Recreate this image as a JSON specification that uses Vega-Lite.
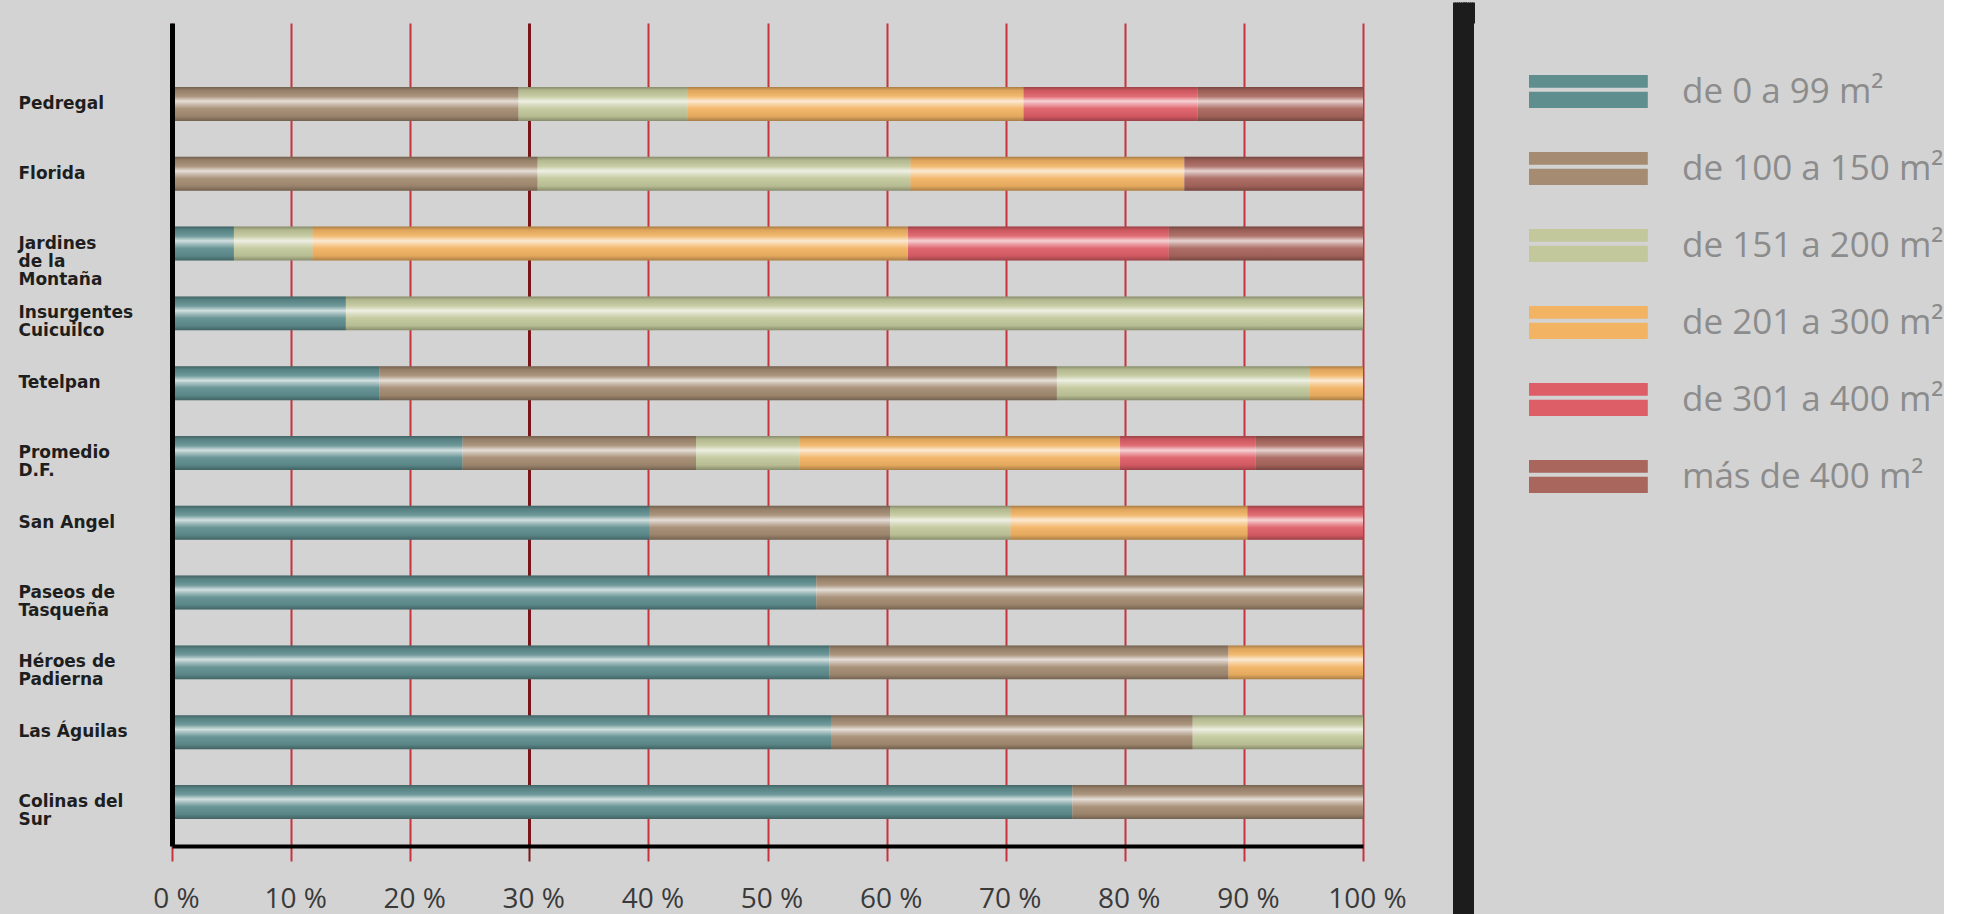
{
  "$schema": "https://vega.github.io/schema/vega-lite/v6.json",
  "background": "#d3d3d3",
  "padding": {"left": 18, "right": 0, "top": 0, "bottom": 0},
  "config": {"view": {"stroke": null}},
  "columns": 2,
  "align": "none",
  "spacing": 45,
  "concat": [
    {
      "width": 1191,
      "height": 823,
      "data": {
        "values": [
          {"barrio": "Pedregal", "rango": "de 100 a 150 m²", "orden": 1, "pct": 29.1},
          {"barrio": "Pedregal", "rango": "de 151 a 200 m²", "orden": 2, "pct": 14.2},
          {"barrio": "Pedregal", "rango": "de 201 a 300 m²", "orden": 3, "pct": 28.2},
          {"barrio": "Pedregal", "rango": "de 301 a 400 m²", "orden": 4, "pct": 14.6},
          {"barrio": "Pedregal", "rango": "más de 400 m²", "orden": 5, "pct": 13.9},
          {"barrio": "Florida", "rango": "de 100 a 150 m²", "orden": 1, "pct": 30.7},
          {"barrio": "Florida", "rango": "de 151 a 200 m²", "orden": 2, "pct": 31.3},
          {"barrio": "Florida", "rango": "de 201 a 300 m²", "orden": 3, "pct": 23.0},
          {"barrio": "Florida", "rango": "más de 400 m²", "orden": 5, "pct": 15.0},
          {"barrio": "Jardines de la Montaña", "rango": "de 0 a 99 m²", "orden": 0, "pct": 5.2},
          {"barrio": "Jardines de la Montaña", "rango": "de 151 a 200 m²", "orden": 2, "pct": 6.6},
          {"barrio": "Jardines de la Montaña", "rango": "de 201 a 300 m²", "orden": 3, "pct": 50.0},
          {"barrio": "Jardines de la Montaña", "rango": "de 301 a 400 m²", "orden": 4, "pct": 21.9},
          {"barrio": "Jardines de la Montaña", "rango": "más de 400 m²", "orden": 5, "pct": 16.3},
          {"barrio": "Insurgentes Cuicuilco", "rango": "de 0 a 99 m²", "orden": 0, "pct": 14.6},
          {"barrio": "Insurgentes Cuicuilco", "rango": "de 151 a 200 m²", "orden": 2, "pct": 85.4},
          {"barrio": "Tetelpan", "rango": "de 0 a 99 m²", "orden": 0, "pct": 17.4},
          {"barrio": "Tetelpan", "rango": "de 100 a 150 m²", "orden": 1, "pct": 56.9},
          {"barrio": "Tetelpan", "rango": "de 151 a 200 m²", "orden": 2, "pct": 21.2},
          {"barrio": "Tetelpan", "rango": "de 201 a 300 m²", "orden": 3, "pct": 4.5},
          {"barrio": "Promedio D.F.", "rango": "de 0 a 99 m²", "orden": 0, "pct": 24.4},
          {"barrio": "Promedio D.F.", "rango": "de 100 a 150 m²", "orden": 1, "pct": 19.6},
          {"barrio": "Promedio D.F.", "rango": "de 151 a 200 m²", "orden": 2, "pct": 8.7},
          {"barrio": "Promedio D.F.", "rango": "de 201 a 300 m²", "orden": 3, "pct": 26.9},
          {"barrio": "Promedio D.F.", "rango": "de 301 a 400 m²", "orden": 4, "pct": 11.4},
          {"barrio": "Promedio D.F.", "rango": "más de 400 m²", "orden": 5, "pct": 9.0},
          {"barrio": "San Angel", "rango": "de 0 a 99 m²", "orden": 0, "pct": 40.1},
          {"barrio": "San Angel", "rango": "de 100 a 150 m²", "orden": 1, "pct": 20.2},
          {"barrio": "San Angel", "rango": "de 151 a 200 m²", "orden": 2, "pct": 10.1},
          {"barrio": "San Angel", "rango": "de 201 a 300 m²", "orden": 3, "pct": 19.9},
          {"barrio": "San Angel", "rango": "de 301 a 400 m²", "orden": 4, "pct": 9.7},
          {"barrio": "Paseos de Tasqueña", "rango": "de 0 a 99 m²", "orden": 0, "pct": 54.1},
          {"barrio": "Paseos de Tasqueña", "rango": "de 100 a 150 m²", "orden": 1, "pct": 45.9},
          {"barrio": "Héroes de Padierna", "rango": "de 0 a 99 m²", "orden": 0, "pct": 55.2},
          {"barrio": "Héroes de Padierna", "rango": "de 100 a 150 m²", "orden": 1, "pct": 33.5},
          {"barrio": "Héroes de Padierna", "rango": "de 201 a 300 m²", "orden": 3, "pct": 11.3},
          {"barrio": "Las Águilas", "rango": "de 0 a 99 m²", "orden": 0, "pct": 55.4},
          {"barrio": "Las Águilas", "rango": "de 100 a 150 m²", "orden": 1, "pct": 30.3},
          {"barrio": "Las Águilas", "rango": "de 151 a 200 m²", "orden": 2, "pct": 14.3},
          {"barrio": "Colinas del Sur", "rango": "de 0 a 99 m²", "orden": 0, "pct": 75.6},
          {"barrio": "Colinas del Sur", "rango": "de 100 a 150 m²", "orden": 1, "pct": 24.4}
        ]
      },
      "layer": [
        {
          "mark": {"type": "bar"},
          "encoding": {
            "y": {
              "field": "barrio",
              "type": "nominal",
              "sort": ["Pedregal", "Florida", "Jardines de la Montaña", "Insurgentes Cuicuilco", "Tetelpan", "Promedio D.F.", "San Angel", "Paseos de Tasqueña", "Héroes de Padierna", "Las Águilas", "Colinas del Sur"],
              "scale": {"paddingInner": 0.513, "paddingOuter": 0.652, "align": 0.703},
              "axis": {
                "title": null,
                "ticks": false,
                "grid": false,
                "domainColor": "#000000",
                "domainWidth": 5,
                "labelAlign": "left",
                "labelBaseline": "middle",
                "labelPadding": 154,
                "labelFont": "DejaVu Sans",
                "labelFontSize": 17,
                "labelFontWeight": "bold",
                "labelColor": "#1e1e1e",
                "labelLineHeight": 18,
                "labelLimit": 220,
                "zindex": 1,
                "labelExpr": "datum.value == 'Jardines de la Montaña' ? ['Jardines', 'de la', 'Montaña'] : datum.value == 'Insurgentes Cuicuilco' ? ['Insurgentes', 'Cuicuilco'] : datum.value == 'Promedio D.F.' ? ['Promedio', 'D.F.'] : datum.value == 'Paseos de Tasqueña' ? ['Paseos de', 'Tasqueña'] : datum.value == 'Héroes de Padierna' ? ['Héroes de', 'Padierna'] : datum.value == 'Colinas del Sur' ? ['Colinas del', 'Sur'] : datum.value",
                "encode": {
                  "labels": {
                    "update": {
                      "dy": {"signal": "datum.value == 'Jardines de la Montaña' ? -18 : indexof(['Insurgentes Cuicuilco', 'Promedio D.F.', 'Paseos de Tasqueña', 'Héroes de Padierna', 'Colinas del Sur'], datum.value) >= 0 ? -9 : 0"}
                    }
                  }
                }
              }
            },
            "x": {
              "field": "pct",
              "type": "quantitative",
              "stack": "zero",
              "scale": {"domain": [0, 100], "nice": false},
              "axis": {
                "title": null,
                "orient": "bottom",
                "values": [0, 10, 20, 30, 40, 50, 60, 70, 80, 90, 100],
                "labelExpr": "datum.value + ' %'",
                "grid": true,
                "gridColor": {"condition": {"test": "datum.value === 30", "value": "#7a1418"}, "value": "#c8323c"},
                "gridWidth": {"condition": {"test": "datum.value === 30", "value": 3}, "value": 2},
                "tickColor": {"condition": {"test": "datum.value === 30", "value": "#7a1418"}, "value": "#c8323c"},
                "tickSize": 15,
                "tickWidth": 2,
                "domainColor": "#000000",
                "domainWidth": 4,
                "labelFont": "Open Sans",
                "labelFontSize": 28,
                "labelColor": "#3a3a3a",
                "labelPadding": 24,
                "labelOffset": 4,
                "labelFlush": false,
                "labelOverlap": false
              }
            },
            "color": {
              "field": "rango",
              "type": "nominal",
              "scale": {
                "domain": ["de 0 a 99 m²", "de 100 a 150 m²", "de 151 a 200 m²", "de 201 a 300 m²", "de 301 a 400 m²", "más de 400 m²"],
                "range": ["#5f8e8f", "#a48b72", "#c2c89b", "#f2b363", "#de5e67", "#a8665d"]
              },
              "legend": {
                "orient": "none",
                "legendX": 1356,
                "legendY": 51,
                "title": null,
                "padding": 0,
                "symbolType": "M-1,-1H6.2V-0.22H-1Z M-1,0.02H6.2V1H-1Z",
                "symbolSize": 1089,
                "symbolStrokeWidth": 0,
                "symbolOpacity": 1,
                "labelFont": "Open Sans",
                "labelFontSize": 35,
                "labelColor": "#8c8c8c",
                "labelOffset": 119,
                "labelLimit": 400,
                "rowPadding": 41
              }
            },
            "order": {"field": "orden", "type": "quantitative"}
          }
        },
        {
          "mark": {
            "type": "bar",
            "fill": {
              "gradient": "linear",
              "x1": 0, "y1": 0, "x2": 0, "y2": 1,
              "stops": [
                {"offset": 0, "color": "rgba(0,0,0,0.30)"},
                {"offset": 0.1, "color": "rgba(0,0,0,0.08)"},
                {"offset": 0.28, "color": "rgba(255,255,255,0.10)"},
                {"offset": 0.42, "color": "rgba(255,255,255,0.72)"},
                {"offset": 0.5, "color": "rgba(255,255,255,0.45)"},
                {"offset": 0.64, "color": "rgba(255,255,255,0.06)"},
                {"offset": 0.86, "color": "rgba(0,0,0,0.06)"},
                {"offset": 1, "color": "rgba(0,0,0,0.30)"}
              ]
            }
          },
          "encoding": {
            "y": {
              "field": "barrio",
              "type": "nominal",
              "sort": ["Pedregal", "Florida", "Jardines de la Montaña", "Insurgentes Cuicuilco", "Tetelpan", "Promedio D.F.", "San Angel", "Paseos de Tasqueña", "Héroes de Padierna", "Las Águilas", "Colinas del Sur"]
            },
            "x": {
              "aggregate": "sum",
              "field": "pct",
              "type": "quantitative",
              "axis": {
                "title": null,
                "orient": "top",
                "labels": false,
                "domain": false,
                "grid": false,
                "ticks": true,
                "tickSize": 21,
                "tickOpacity": 0
              }
            }
          }
        }
      ],
      "resolve": {"axis": {"x": "independent"}}
    },
    {
      "width": 21,
      "height": 914,
      "view": {"fill": "#1c1c1c", "stroke": null},
      "data": {"values": [{"v": 0.5}]},
      "mark": {"type": "point", "opacity": 0},
      "encoding": {
        "x": {
          "field": "v",
          "type": "quantitative",
          "scale": {"domain": [0, 1], "nice": false, "zero": false},
          "axis": {
            "title": null,
            "orient": "top",
            "values": [0.0714, 0.1571, 0.2429, 0.3286, 0.4143, 0.5, 0.5857, 0.6714, 0.7571, 0.8429, 0.9286],
            "labels": false,
            "domain": false,
            "grid": false,
            "ticks": true,
            "tickSize": 21,
            "tickWidth": 3,
            "tickColor": "#1c1c1c",
            "tickOpacity": 1
          }
        }
      }
    }
  ]
}
